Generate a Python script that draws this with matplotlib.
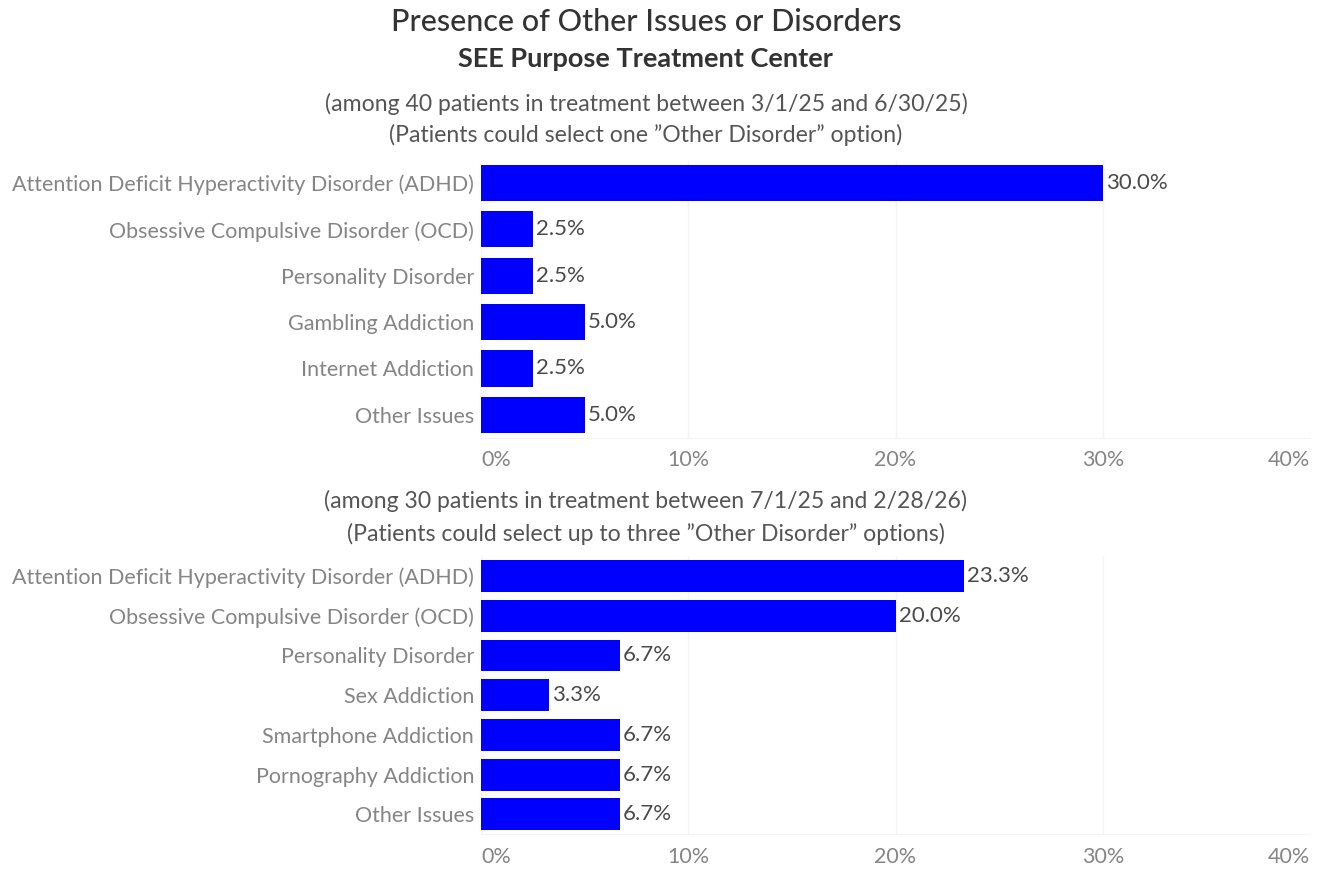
import matplotlib
matplotlib.use("Agg")
import matplotlib.pyplot as plt
from matplotlib.ticker import FuncFormatter

plt.rcParams["font.family"] = ["Lato", "DejaVu Sans"]

# first period (40 patients)
categories_a = [
    "Attention Deficit Hyperactivity Disorder (ADHD)",
    "Obsessive Compulsive Disorder (OCD)",
    "Personality Disorder",
    "Gambling Addiction",
    "Internet Addiction",
    "Other Issues",
]
values_a = [30.0, 2.5, 2.5, 5.0, 2.5, 5.0]

# second period (30 patients)
categories_b = [
    "Attention Deficit Hyperactivity Disorder (ADHD)",
    "Obsessive Compulsive Disorder (OCD)",
    "Personality Disorder",
    "Sex Addiction",
    "Smartphone Addiction",
    "Pornography Addiction",
    "Other Issues",
]
values_b = [23.3, 20.0, 6.7, 3.3, 6.7, 6.7, 6.7]

x_ticks = [0, 10, 20, 30, 40]

BAR_COLOR = "#0000ff"
LABEL_COLOR = "#858585"
VALUE_COLOR = "#4a4a4a"
TITLE_COLOR = "#333333"
SUB_COLOR = "#555555"


def draw_panel(ax, cats, vals, bar_height):
    pos = list(range(len(cats)))
    ax.barh(pos, vals, height=bar_height, color=BAR_COLOR, zorder=3)
    ax.set_ylim(len(cats) - 0.5, -0.5)
    ax.set_xlim(0, 40)
    ax.set_yticks(pos)
    ax.set_yticklabels(cats, fontsize=15.5, color=LABEL_COLOR)
    ax.set_xticks(x_ticks)
    ax.xaxis.set_major_formatter(FuncFormatter(lambda v, _: f"{v:.0f}%"))
    ax.tick_params(axis="x", labelsize=15.5, labelcolor=LABEL_COLOR,
                   length=0, pad=9)
    ax.tick_params(axis="y", length=0, pad=5)
    labels = ax.get_xticklabels()
    labels[0].set_horizontalalignment("left")
    labels[-1].set_horizontalalignment("right")
    for side in ("top", "right", "left"):
        ax.spines[side].set_visible(False)
    ax.spines["bottom"].set_color("#f3f3f3")
    ax.grid(axis="x", color="#f4f4f4", linewidth=1, zorder=0)
    ax.set_axisbelow(True)
    for p, v in zip(pos, vals):
        ax.text(v + 0.15, p, f"{v:.1f}%", va="center", ha="left",
                fontsize=16, color=VALUE_COLOR, zorder=4)


fig = plt.figure(figsize=(13.25, 8.69), dpi=100, facecolor="white")

ax_top = fig.add_axes([0.363, 0.496, 0.6257, 0.320])
ax_bot = fig.add_axes([0.363, 0.040, 0.6257, 0.320])

draw_panel(ax_top, categories_a, values_a, 0.78)
draw_panel(ax_bot, categories_b, values_b, 0.8)

fig.text(0.4875, 0.975, "Presence of Other Issues or Disorders",
         ha="center", va="center", fontsize=22, fontweight="medium",
         color=TITLE_COLOR)
fig.text(0.4875, 0.932, "SEE Purpose Treatment Center",
         ha="center", va="center", fontsize=19.5, fontweight="bold",
         color=TITLE_COLOR)
fig.text(0.4875, 0.880,
         "(among 40 patients in treatment between 3/1/25 and 6/30/25)",
         ha="center", va="center", fontsize=16.6, color=SUB_COLOR)
fig.text(0.4875, 0.845,
         "(Patients could select one \u201dOther Disorder\u201d option)",
         ha="center", va="center", fontsize=16.6, color=SUB_COLOR)
fig.text(0.4875, 0.423,
         "(among 30 patients in treatment between 7/1/25 and 2/28/26)",
         ha="center", va="center", fontsize=16.6, color=SUB_COLOR)
fig.text(0.4875, 0.386,
         "(Patients could select up to three \u201dOther Disorder\u201d options)",
         ha="center", va="center", fontsize=16.6, color=SUB_COLOR)

fig.savefig("out.png", dpi=100, facecolor="white")
